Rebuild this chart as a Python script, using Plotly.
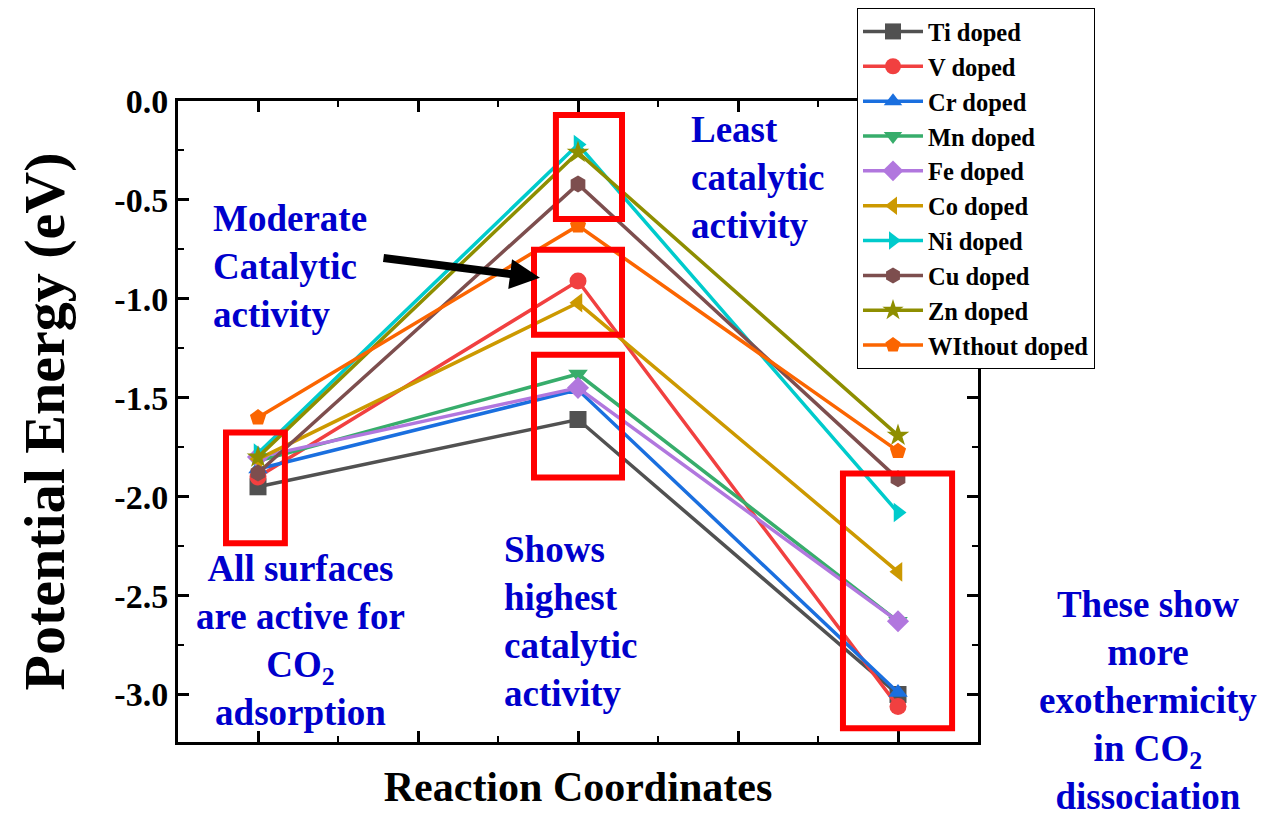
import plotly.graph_objects as go

# Reaction coordinate stages (initial, transition, final)
stage = [1, 2, 3]

# Potential energy (eV) of each doped surface along the reaction path
ti_doped = [-1.95, -1.61, -3.00]
v_doped = [-1.90, -0.91, -3.06]
cr_doped = [-1.86, -1.46, -2.99]
mn_doped = [-1.82, -1.38, -2.63]
fe_doped = [-1.80, -1.45, -2.63]
co_doped = [-1.81, -1.02, -2.38]
ni_doped = [-1.78, -0.22, -2.08]
cu_doped = [-1.88, -0.42, -1.91]
zn_doped = [-1.80, -0.26, -1.69]
without_doped = [-1.60, -0.63, -1.77]

series_names = ["Ti doped", "V doped", "Cr doped", "Mn doped", "Fe doped",
                "Co doped", "Ni doped", "Cu doped", "Zn doped", "WIthout doped"]
series_values = [ti_doped, v_doped, cr_doped, mn_doped, fe_doped,
                 co_doped, ni_doped, cu_doped, zn_doped, without_doped]

# Y axis tick positions and labels
y_tick_vals = [0.0, -0.5, -1.0, -1.5, -2.0, -2.5, -3.0]
y_tick_text = ["0.0", "-0.5", "-1.0", "-1.5", "-2.0", "-2.5", "-3.0"]

colors = ["#515151", "#F14040", "#1A6FDF", "#37AD6B", "#B177DE",
          "#CC9900", "#00CBCC", "#7D4E4E", "#8E8E00", "#FB6501"]
symbols = ["square", "circle", "triangle-up", "triangle-down", "diamond",
           "triangle-left", "triangle-right", "hexagon", "star", "pentagon"]

FONT = "Liberation Serif, Times New Roman, serif"
BLUE = "#0000CC"

fig = go.Figure()
for name, vals, col, sym in zip(series_names, series_values, colors, symbols):
    fig.add_trace(go.Scatter(
        x=stage, y=vals, name=name, mode="lines+markers",
        line=dict(color=col, width=3.5),
        marker=dict(symbol=sym, size=17, color=col, line=dict(width=0)),
        cliponaxis=False,
    ))

# Highlight boxes around groups of points
boxes = [
    (0.90, -1.676, 1.084, -2.236),
    (1.931, -0.071, 2.1375, -0.596),
    (1.8625, -0.752, 2.1375, -1.181),
    (1.8625, -1.282, 2.1375, -1.903),
    (2.828, -1.883, 3.169, -3.170),
]
for x0, y0, x1, y1 in boxes:
    fig.add_shape(type="rect", xref="x", yref="y", x0=x0, y0=y0, x1=x1, y1=y1,
                  line=dict(color="#FF0000", width=6), fillcolor="rgba(0,0,0,0)")

# Arrow pointing to the moderate-activity group
fig.add_annotation(x=1.881, y=-0.8935, ax=1.3875, ay=-0.7925,
                   xref="x", yref="y", axref="x", ayref="y",
                   text="", showarrow=True, arrowhead=2, arrowsize=0.75,
                   arrowwidth=8, arrowcolor="black")

notes = [
    ("Moderate<br>Catalytic<br>activity", 211, 266, "left"),
    ("Least<br>catalytic<br>activity", 689, 177, "left"),
    ("All surfaces<br>are active for<br>CO<sub>2</sub><br>adsorption", 300, 640, "center"),
    ("Shows<br>highest<br>catalytic<br>activity", 502, 621, "left"),
    ("These show<br>more<br>exothermicity<br>in CO<sub>2</sub><br>dissociation", 1148, 700, "center"),
]
for text, px, py, align in notes:
    fig.add_annotation(
        text=text, xref="paper", yref="paper",
        x=(px - 178) / 800, y=(742 - py) / 641,
        xanchor=align, yanchor="middle",
        align=align, showarrow=False,
        font=dict(family=FONT, size=37, color=BLUE, weight="bold"),
    )

axis_common = dict(
    showline=True, linecolor="black", linewidth=3, mirror="allticks",
    ticks="inside", ticklen=11, tickwidth=3, tickcolor="black",
    showgrid=False, zeroline=False,
)

fig.update_xaxes(
    range=[0.75, 3.25], tick0=1, dtick=0.5, showticklabels=False,
    minor=dict(ticks="inside", ticklen=6, tickwidth=2, tickcolor="black", dtick=0.25, tick0=1),
    title=dict(text="Reaction Coordinates", standoff=28,
               font=dict(family=FONT, size=42, color="black", weight="bold")),
    **axis_common,
)
fig.update_yaxes(
    range=[-3.24, 0.0], tickvals=y_tick_vals, ticktext=y_tick_text,
    tickfont=dict(family=FONT, size=34, color="black", weight="bold"),
    minor=dict(ticks="inside", ticklen=6, tickwidth=2, tickcolor="black", dtick=0.25, tick0=0),
    title=dict(text="Potential Energy (eV)", standoff=32,
               font=dict(family=FONT, size=58, color="black", weight="bold")),
    **axis_common,
)

fig.update_layout(
    width=1277, height=816,
    margin=dict(l=178, r=299, t=101, b=74, autoexpand=False),
    plot_bgcolor="white", paper_bgcolor="white",
    showlegend=True,
    legend=dict(
        x=(857 - 178) / 800, y=(742 - 8) / 641, xanchor="left", yanchor="top",
        bgcolor="white", bordercolor="black", borderwidth=1,
        font=dict(family=FONT, size=24.5, color="black", weight="bold"),
        itemwidth=60, tracegroupgap=0,
    ),
)

fig.write_html("out.html")
